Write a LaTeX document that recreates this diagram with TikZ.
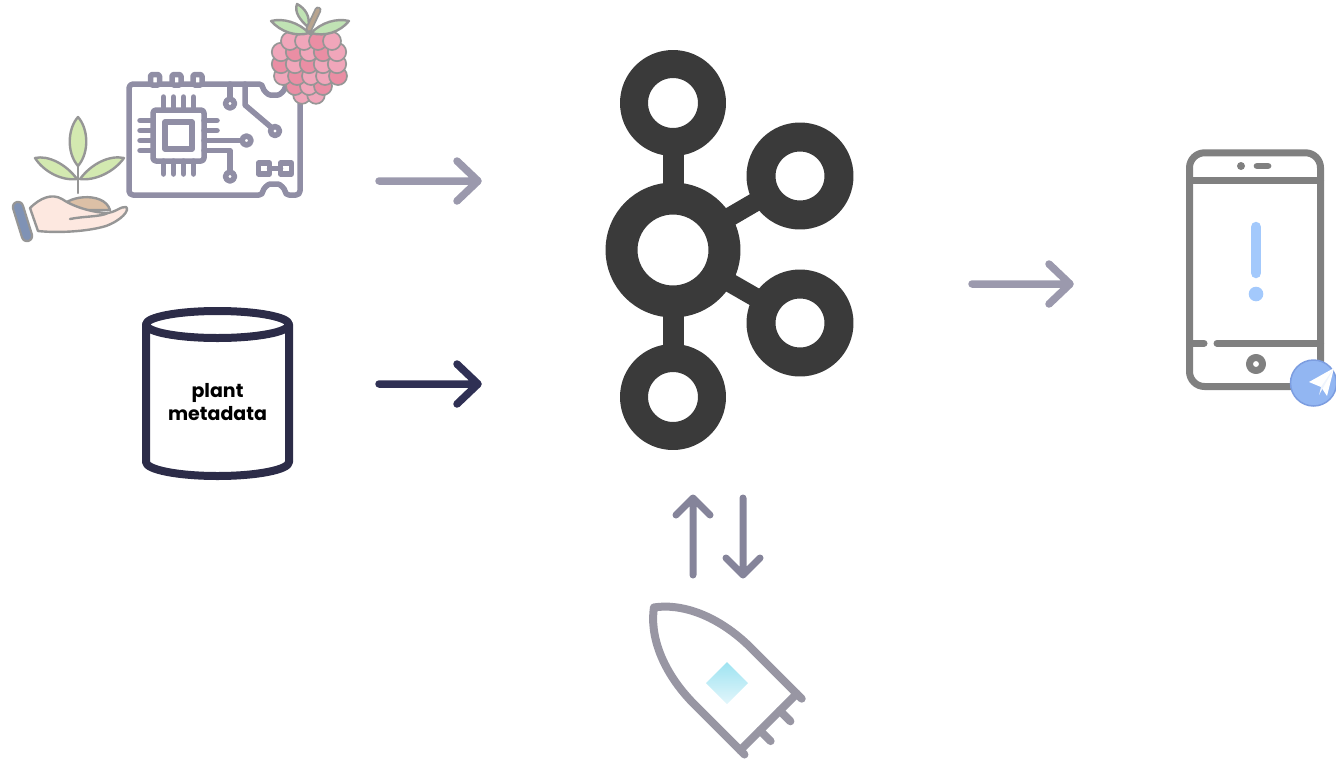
\documentclass[tikz,border=0pt]{standalone}
\usepackage{fontspec}
\newfontfamily\labelfont{Poppins}
\definecolor{kafkagray}{RGB}{58,58,58}
\definecolor{softarrow}{RGB}{155,153,173}
\definecolor{darkarrow}{RGB}{47,48,84}
\definecolor{swaparrow}{RGB}{133,132,154}
\definecolor{dbnavy}{RGB}{44,44,72}
\definecolor{phonegray}{RGB}{128,128,128}
\definecolor{alertblue}{RGB}{163,201,252}
\definecolor{tgfill}{RGB}{146,182,242}
\definecolor{tgedge}{RGB}{124,157,224}
\definecolor{rocketgray}{RGB}{152,150,163}
\definecolor{gemtop}{RGB}{158,227,241}
\definecolor{gembot}{RGB}{226,246,251}
\definecolor{boardgray}{RGB}{144,142,165}
\definecolor{iconline}{RGB}{150,150,150}
\definecolor{berrypink}{RGB}{240,166,186}
\definecolor{berrydeep}{RGB}{234,142,164}
\definecolor{leafgreen}{RGB}{192,227,180}
\definecolor{sproutgreen}{RGB}{211,233,176}
\definecolor{stembrown}{RGB}{184,164,143}
\definecolor{soilbrown}{RGB}{220,192,166}
\definecolor{skin}{RGB}{253,232,224}
\definecolor{cuffblue}{RGB}{127,146,181}
\begin{document}
\begin{tikzpicture}[x=1pt,y=-1pt,line cap=round,line join=round,
  flowsoft/.style={draw=softarrow,line width=7.5pt},
  flowdark/.style={draw=darkarrow,line width=7.5pt},
  flowswap/.style={draw=swaparrow,line width=7pt},
  ring/.style={draw=kafkagray,fill=white},
  bridge/.style={draw=kafkagray,line cap=butt},
  dbline/.style={draw=dbnavy,line width=8pt},
  phoneline/.style={draw=phonegray,line width=7pt},
  boardline/.style={draw=boardgray,line width=5.5pt},
  iconedge/.style={draw=iconline,line width=2.4pt},
  drupe/.style={draw=iconline,line width=1.7pt,fill=berrypink},
  drupedeep/.style={draw=iconline,line width=1.7pt,fill=berrydeep},
  rocketline/.style={draw=rocketgray,line width=8pt},
  dblabel/.style={font=\labelfont\bfseries\fontsize{19}{23.5}\selectfont,align=center,text=black}]
\useasboundingbox (0,0) rectangle (1336,766);

% ---------- sensor board ----------
\draw[boardline,rounded corners=4pt] (129,84) -- (263,84)
  .. controls (263,90) and (268,95) .. (274,95)
  .. controls (280,95) and (285,90) .. (285,84)
  -- (300,84) -- (300,195) -- (285,195)
  .. controls (285,189) and (280,184) .. (274,184)
  .. controls (268,184) and (263,189) .. (263,195)
  -- (129,195) -- cycle;
\foreach \cx in {155,176.5,197.5}
  \draw[boardline,fill=white,rounded corners=1.5pt] (\cx-4.5,74.5) rectangle (\cx+4.5,85);
% chip
\foreach \px in {163.5,173.5,183.5,193.5} {
  \draw[boardline] (\px,97) -- (\px,110);
  \draw[boardline] (\px,161) -- (\px,174);
}
\foreach \py in {120.5,130.5,140.5,150.5}
  \draw[boardline] (140,\py) -- (153,\py);
\foreach \py in {120.5,130.5}
  \draw[boardline] (204,\py) -- (217,\py);
\draw[boardline,rounded corners=3pt] (153,110) rectangle (204,161);
\draw[boardline] (165,122) rectangle (192,149);
% traces
\draw[boardline] (230,84) -- (230,99);
\draw[boardline] (230,103.5) circle[radius=4.5];
\draw[boardline] (245,84) -- (245,105) -- (271.8,127.8);
\draw[boardline] (275,131) circle[radius=4.5];
\draw[boardline] (204,140.5) -- (242,140.5);
\draw[boardline] (246.5,140.5) circle[radius=4.5];
\draw[boardline] (204,150.5) -- (230,150.5) -- (230,172);
\draw[boardline] (230,176.5) circle[radius=4.5];
\draw[boardline] (258.5,163) rectangle (269.5,174);
\draw[boardline] (280.5,163) rectangle (291.5,174);
\draw[boardline] (269.5,168.5) -- (280.5,168.5);

% ---------- raspberry ----------
\foreach \x in {302,316} \draw[drupe] (\x,95) circle[radius=8.8];
\foreach \x/\s in {295/drupedeep,309/drupe,323/drupedeep} \draw[\s] (\x,86) circle[radius=9];
\foreach \x/\s in {283/drupe,297/drupedeep,311/drupe,325/drupe,338/drupedeep} \draw[\s] (\x,76) circle[radius=9];
\foreach \x/\s in {281/drupedeep,295/drupe,309/drupedeep,323/drupe,337/drupe} \draw[\s] (\x,64) circle[radius=9.2];
\foreach \x/\s in {281/drupe,295/drupedeep,309/drupe,323/drupedeep,337/drupe} \draw[\s] (\x,52) circle[radius=9.2];
\foreach \x/\s in {290/drupe,304/drupe,318/drupedeep,332/drupe} \draw[\s] (\x,41) circle[radius=9];
\draw[iconedge,fill=leafgreen] (308,27) .. controls (300,20) and (294,12) .. (297,4)
  .. controls (305,8) and (311,17) .. (308,27);
\draw[iconline,line width=7pt] (309,29) -- (318,10);
\draw[stembrown,line width=3.5pt] (309,29) -- (318,10);
\draw[iconedge,fill=leafgreen] (309,33) .. controls (298,22) and (283,18) .. (271,21)
  .. controls (281,32) and (296,37) .. (309,33);
\draw[iconedge,fill=leafgreen] (311,33) .. controls (322,22) and (337,18) .. (349,21)
  .. controls (340,32) and (325,37) .. (311,33);

% ---------- hand holding a sprout ----------
\draw[iconedge] (78,166) -- (78,193);
\draw[iconedge,fill=sproutgreen] (78,166) .. controls (66,152) and (68,128) .. (78,117)
  .. controls (88,128) and (90,152) .. (78,166);
\draw[iconedge,fill=sproutgreen] (77,179) .. controls (66,164) and (48,155) .. (35,158)
  .. controls (44,172) and (62,181) .. (77,179);
\draw[iconedge,fill=sproutgreen] (80,179) .. controls (95,181) and (114,172) .. (124,158)
  .. controls (110,155) and (92,163) .. (80,179);
\draw[iconedge,fill=soilbrown] (61,210) .. controls (62,196) and (104,190) .. (110,210) -- cycle;
\draw[iconedge,fill=skin] (30,208) .. controls (40,198) and (52,193) .. (62,199)
  .. controls (72,206) and (90,212) .. (106,213)
  .. controls (115,213) and (121,206) .. (126,207)
  .. controls (130,210) and (122,220) .. (106,226)
  .. controls (86,232) and (56,233) .. (38,231) -- cycle;
\draw[iconedge] (70,219) .. controls (85,216) and (100,217) .. (108,213);
\draw[iconline,line width=12.5pt] (18,207) -- (27,236);
\draw[cuffblue,line width=8pt] (18,207) -- (27,236);

% ---------- plant metadata store ----------
\draw[dbline] (217.5,324.5) ellipse[x radius=71.5, y radius=13.5];
\draw[dbline] (146,324.5) -- (146,462)
  .. controls (146,469.7) and (178,476) .. (217.5,476)
  .. controls (257,476) and (289,469.7) .. (289,462) -- (289,324.5);
\node[dblabel] (db) at (217.5,402) {plant\\metadata};

% ---------- Kafka broker ----------
\coordinate (k0) at (673,250);
\coordinate (k1) at (673,103);
\coordinate (k2) at (800,176);
\coordinate (k3) at (800,323);
\coordinate (k4) at (673,397);
\draw[bridge,line width=21pt] (k1) -- (k0) -- (k4);
\draw[bridge,line width=19pt] (k2) -- (k0) -- (k3);
\draw[ring,line width=28pt] (k1) circle[radius=39];
\draw[ring,line width=29pt] (k2) circle[radius=39];
\draw[ring,line width=29pt] (k3) circle[radius=39];
\draw[ring,line width=28pt] (k4) circle[radius=39];
\draw[ring,line width=32pt] (k0) circle[radius=51.5];

% ---------- flow arrows ----------
\coordinate (a1s) at (379,181);  \coordinate (a1e) at (478,181);
\coordinate (a2s) at (379,384);  \coordinate (a2e) at (478,384);
\coordinate (a3s) at (972,284);  \coordinate (a3e) at (1070,284);
\coordinate (upS) at (693,575);  \coordinate (upE) at (693,498);
\coordinate (dnS) at (743,498);  \coordinate (dnE) at (743,575);
\draw[flowsoft] (a1s) -- (a1e) (a1e) ++(-21,-20) -- (a1e) -- ++(-21,20);
\draw[flowdark] (a2s) -- (a2e) (a2e) ++(-21,-20) -- (a2e) -- ++(-21,20);
\draw[flowsoft] (a3s) -- (a3e) (a3e) ++(-21,-20) -- (a3e) -- ++(-21,20);
\draw[flowswap] (upS) -- (upE) (upE) ++(-17,17) -- (upE) -- ++(17,17);
\draw[flowswap] (dnS) -- (dnE) (dnE) ++(-17,-17) -- (dnE) -- ++(17,-17);

% ---------- phone with alert ----------
\draw[phoneline,rounded corners=15pt] (1189.5,152.8) rectangle (1320.5,386.5);
\draw[phoneline] (1189.5,180.7) -- (1320.5,180.7);
\fill[phonegray] (1241,166) circle[radius=4];
\draw[phonegray,line width=6.7pt] (1257,166) -- (1268,166);
\draw[phoneline] (1189.5,343.3) -- (1204,343.3);
\draw[phoneline] (1217,343.3) -- (1320.5,343.3);
\draw[phoneline] (1256,364) circle[radius=6.5];
\draw[alertblue,line width=10.5pt] (1256,227) -- (1256,273);
\fill[alertblue] (1256,294) circle[radius=7.3];
\node[circle,fill=tgfill,draw=tgedge,line width=1.5pt,minimum size=46pt,inner sep=0pt] (tg) at (1313.5,383) {};
\fill[white] (1309,382) -- (1334,368) -- (1327,396) -- (1321,387) -- cycle;
\fill[white!85!tgfill] (1321,387) -- (1334,368) -- (1319,395) -- cycle;

% ---------- stream processor ----------
\begin{scope}[shift={(768.5,722)},rotate=45]
  \draw[rocketline] (-40,0) -- (-40,-64)
    .. controls (-40,-112) and (-22,-146) .. (0,-162)
    .. controls (22,-146) and (40,-112) .. (40,-64) -- (40,0) -- cycle;
  \draw[rocketline] (40,0) -- (40,7);
  \draw[rocketline] (16,0) -- (16,15);
  \draw[rocketline] (-12,0) -- (-12,15);
  \draw[rocketline] (-40,0) -- (-40,6);
\end{scope}
\shade[top color=gemtop,bottom color=gembot] (727,662) -- (748,683) -- (727,704) -- (706,683) -- cycle;

\end{tikzpicture}
\end{document}
